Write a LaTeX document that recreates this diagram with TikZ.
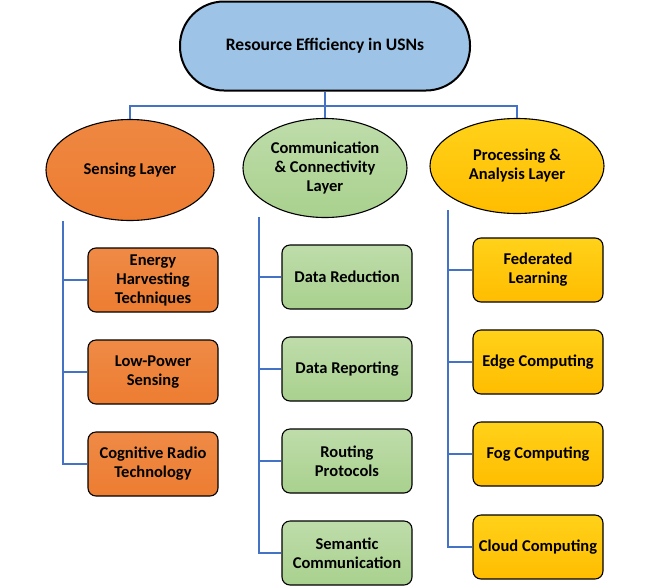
\documentclass[tikz,border=0pt]{standalone}
\usepackage{fontspec}
\setmainfont{Carlito}
\usepackage{tikz}
\usetikzlibrary{positioning,shapes.geometric}

\definecolor{topblue}{HTML}{9DC3E6}
\definecolor{sensorange}{HTML}{ED7D31}
\definecolor{commgreen}{HTML}{A9D18E}
\definecolor{procgold}{HTML}{FFC000}
\definecolor{linkblue}{HTML}{4472C4}

\begin{document}
\begin{tikzpicture}[x=1pt,y=-1pt,
    txt/.style={font=\fontsize{16.5}{19}\selectfont\bfseries,align=center,text=black},
    root/.style={txt,font=\fontsize{17.5}{21}\selectfont\bfseries,draw=black,line width=2pt,rectangle,rounded corners=44pt,fill=topblue,minimum width=290pt,minimum height=89pt},
    layer/.style={txt,draw=black,line width=1.1pt,ellipse,inner sep=0pt},
    sub/.style={txt,draw=black,line width=1.1pt,rectangle,rounded corners=8pt,minimum width=130pt,minimum height=64pt,inner sep=2pt},
    link/.style={draw=linkblue,line width=1.1pt}]
  \useasboundingbox (0,0) rectangle (650,587);

  % top
  \node[root] (top) at (325,46) {Resource Efficiency in USNs};

  % layers
  \node[layer,top color=sensorange!92!white,bottom color=sensorange,minimum width=168pt,minimum height=101pt] (sense) at (130,170) {Sensing Layer};
  \node[layer,top color=commgreen!75!white,bottom color=commgreen,minimum width=164pt,minimum height=99pt] (comm) at (325,168) {Communication\\ \& Connectivity\\ Layer};
  \node[layer,top color=procgold!80!yellow!90!white,bottom color=procgold!95!orange,minimum width=174pt,minimum height=95pt] (proc) at (517,166) {Processing \&\\ Analysis Layer};

  % sensing items
  \node[sub,top color=sensorange!90!white,bottom color=sensorange] (s1) at (153,280) {Energy\\ Harvesting\\ Techniques};
  \node[sub,top color=sensorange!90!white,bottom color=sensorange] (s2) at (153,372) {Low-Power\\ Sensing};
  \node[sub,top color=sensorange!90!white,bottom color=sensorange] (s3) at (153,464) {Cognitive Radio\\ Technology};

  % communication items
  \node[sub,top color=commgreen!75!white,bottom color=commgreen] (c1) at (347,277) {Data Reduction};
  \node[sub,top color=commgreen!75!white,bottom color=commgreen] (c2) at (347,369) {Data Reporting};
  \node[sub,top color=commgreen!75!white,bottom color=commgreen] (c3) at (347,461) {Routing\\ Protocols};
  \node[sub,top color=commgreen!75!white,bottom color=commgreen] (c4) at (347,553) {Semantic\\ Communication};

  % processing items
  \node[sub,top color=procgold!80!yellow!90!white,bottom color=procgold!95!orange] (p1) at (538,270) {Federated\\ Learning};
  \node[sub,top color=procgold!80!yellow!90!white,bottom color=procgold!95!orange] (p2) at (538,362) {Edge Computing};
  \node[sub,top color=procgold!80!yellow!90!white,bottom color=procgold!95!orange] (p3) at (538,454) {Fog Computing};
  \node[sub,top color=procgold!80!yellow!90!white,bottom color=procgold!95!orange] (p4) at (538,547) {Cloud Computing};

  % bus from top to layers
  \coordinate (bus) at (325,106);
  \draw[link] (top.south) -- (bus);
  \draw[link] (bus) -| (sense.north);
  \draw[link] (bus) -| (proc.north);
  \draw[link] (bus) -- (comm.north);

  % side rails
  \coordinate (srail) at (63,221);
  \coordinate (crail) at (259,217);
  \coordinate (prail) at (448,210);
  \draw[link] (srail) |- (s3.west);
  \draw[link] (srail |- s1.west) -- (s1.west);
  \draw[link] (srail |- s2.west) -- (s2.west);
  \draw[link] (crail) |- (c4.west);
  \draw[link] (crail |- c1.west) -- (c1.west);
  \draw[link] (crail |- c2.west) -- (c2.west);
  \draw[link] (crail |- c3.west) -- (c3.west);
  \draw[link] (prail) |- (p4.west);
  \draw[link] (prail |- p1.west) -- (p1.west);
  \draw[link] (prail |- p2.west) -- (p2.west);
  \draw[link] (prail |- p3.west) -- (p3.west);
\end{tikzpicture}
\end{document}
